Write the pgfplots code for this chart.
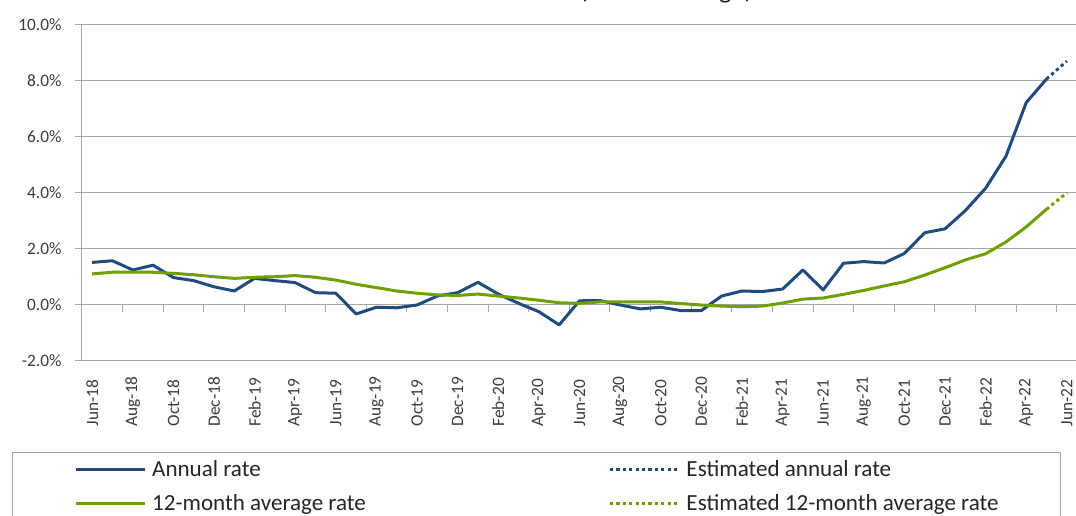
\documentclass[border=0pt]{standalone}
\usepackage{fontspec}
\setmainfont{Carlito}
\usepackage{pgfplots}
\pgfplotsset{compat=1.18}
\usepackage{pgfplotstable}
\definecolor{annblue}{RGB}{31,75,125}
\definecolor{avggreen}{RGB}{112,160,0}
\definecolor{gridgray}{RGB}{165,165,165}
\definecolor{txt}{RGB}{60,60,60}

\pgfplotstableread{
i annual avg
0 1.52 1.11
1 1.58 1.17
2 1.25 1.17
3 1.42 1.17
4 0.98 1.13
5 0.87 1.08
6 0.65 1.01
7 0.50 0.95
8 0.95 0.99
9 0.87 1.01
10 0.80 1.05
11 0.44 0.99
12 0.42 0.89
13 -0.32 0.74
14 -0.08 0.62
15 -0.10 0.50
16 0.00 0.42
17 0.32 0.36
18 0.44 0.34
19 0.81 0.39
20 0.39 0.32
21 0.06 0.25
22 -0.24 0.17
23 -0.71 0.08
24 0.15 0.06
25 0.16 0.11
26 0.00 0.11
27 -0.14 0.11
28 -0.08 0.11
29 -0.20 0.05
30 -0.20 0.00
31 0.32 -0.04
32 0.50 -0.06
33 0.48 -0.04
34 0.57 0.07
35 1.25 0.21
36 0.54 0.25
37 1.49 0.38
38 1.55 0.52
39 1.50 0.68
40 1.84 0.83
41 2.58 1.07
42 2.72 1.33
43 3.37 1.61
44 4.17 1.83
45 5.31 2.25
46 7.23 2.79
47 8.07 3.42
}\datatab

\pgfplotstableread{
i annual avg
47 8.07 3.42
48 8.71 4.01
}\esttab

\begin{document}
\begin{tikzpicture}
\begin{axis}[
  at={(61.5pt,116.25pt)}, anchor=south west,
  scale only axis, width=746.25pt, height=252pt,
  xmin=-0.5, xmax=48.5, ymin=-2, ymax=10,
  axis x line*=middle, axis y line*=left,
  axis line style={draw=gridgray, line width=0.75pt, -},
  ymajorgrids, grid style={draw=gridgray, line width=0.75pt},
  xtick={0,2,...,48},
  xticklabels={Jun-18,Aug-18,Oct-18,Dec-18,Feb-19,Apr-19,Jun-19,Aug-19,Oct-19,Dec-19,Feb-20,Apr-20,Jun-20,Aug-20,Oct-20,Dec-20,Feb-21,Apr-21,Jun-21,Aug-21,Oct-21,Dec-21,Feb-22,Apr-22,Jun-22},
  ytick={-2,0,...,10},
  yticklabels={-2.0\%,0.0\%,2.0\%,4.0\%,6.0\%,8.0\%,10.0\%},
  minor xtick={-0.5,1.5,...,47.5},
  minor ytick={-2,0,...,10},
  major tick length=0pt, minor tick length=5.25pt,
  tick align=outside,
  tick style={draw=gridgray, line width=0.75pt},
  ticklabel style={font=\fontsize{13}{15}\selectfont, text=txt, inner sep=0pt},
  xticklabel style={rotate=90, anchor=west},
  xticklabel shift=91.3pt,
  yticklabel style={anchor=east, xshift=-15.2pt},
  legend columns=2,
  legend cell align=left,
  legend image code/.code={\draw[#1] (0pt,0pt) -- (51.75pt,0pt);},
  legend style={at={(axis description cs:-0.0707,-0.2708)}, anchor=north west,
    draw=gridgray, line width=0.75pt, fill=white,
    font=\fontsize{17.3}{20}\selectfont, text=black!85,
    inner xsep=46.5pt, inner ysep=5.75pt,
    nodes={inner sep=0pt, text height=12.5pt, text depth=1.5pt},
    row sep=11.5pt,
    /tikz/every odd column/.append style={column sep=4.5pt},
    /tikz/every even column/.append style={column sep=182pt}},
]
\addplot[annblue, line width=2.25pt, line join=round] table[x=i, y=annual] {\datatab};
\addlegendentry{Annual rate}
\addplot[annblue, line width=2.25pt, dash pattern=on 2.4pt off 2.4pt] table[x=i, y=annual] {\esttab};
\addlegendentry{Estimated annual rate}
\addplot[avggreen, line width=2.25pt, line join=round] table[x=i, y=avg] {\datatab};
\addlegendentry{12-month average rate}
\addplot[avggreen, line width=2.25pt, dash pattern=on 2.4pt off 2.4pt] table[x=i, y=avg] {\esttab};
\addlegendentry{Estimated 12-month average rate}
\end{axis}
\node[anchor=base west, inner sep=0pt, font=\fontsize{20}{24}\selectfont, text=black!85] at (434.25pt,388.4pt) {(annual change)};
\pgfresetboundingbox
\useasboundingbox (0,0) rectangle (807pt,387pt);
\end{tikzpicture}
\end{document}
